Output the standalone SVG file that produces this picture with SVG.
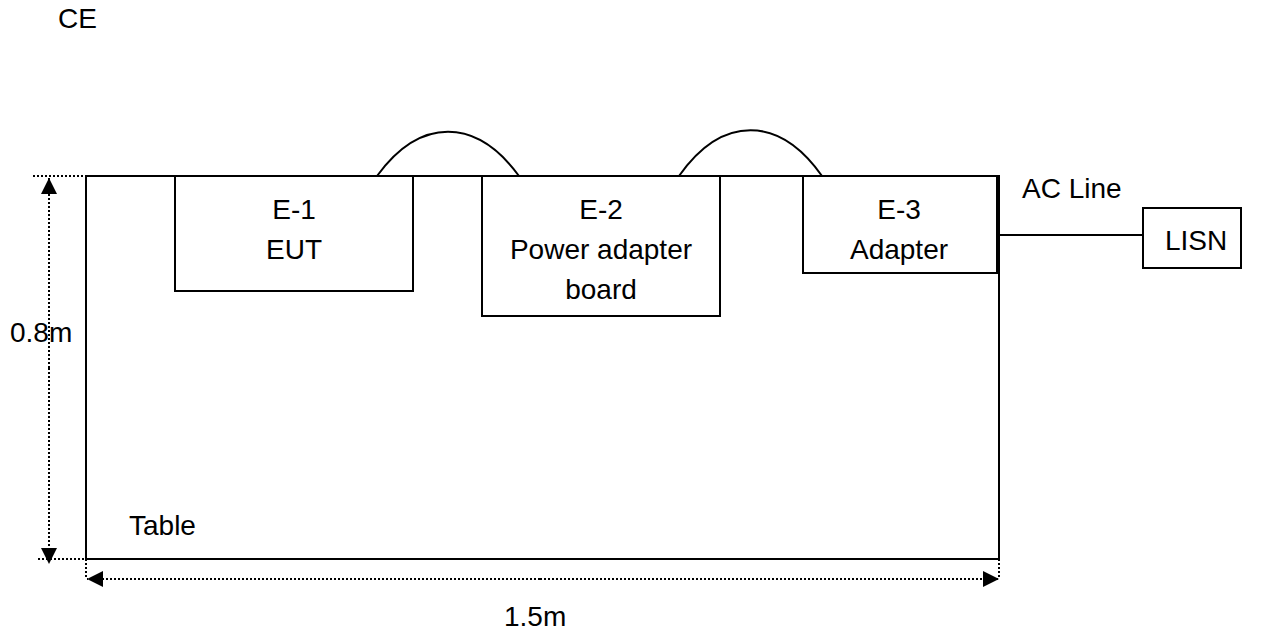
<svg xmlns="http://www.w3.org/2000/svg" width="1271" height="632" viewBox="0 0 1271 632">
<style>
.box{fill:none;stroke:#000;stroke-width:2}
.ln{fill:none;stroke:#000;stroke-width:2}
.dot{fill:none;stroke:#000;stroke-width:2;stroke-dasharray:2 2}
text{font-family:"Liberation Sans",Arial,sans-serif;font-size:28px;fill:#000}
.c{text-anchor:middle}
</style>
<defs>
<marker id="ah" viewBox="0 0 16 16" refX="16" refY="8" markerWidth="16" markerHeight="16" markerUnits="userSpaceOnUse" orient="auto">
<path d="M0,0 L16,8 L0,16 Z" fill="#000"/>
</marker>
</defs>
<rect width="1271" height="632" fill="#fff"/>
<text x="58" y="28">CE</text>
<g id="table">
<rect class="box" x="86" y="176" width="913" height="383"/>
<text x="129" y="535">Table</text>
</g>
<g id="e1">
<rect class="box" x="175" y="176" width="238" height="115"/>
<text class="c" x="294" y="219">E-1</text>
<text class="c" x="294" y="259">EUT</text>
</g>
<g id="e2">
<rect class="box" x="482" y="176" width="238" height="140"/>
<text class="c" x="601" y="219">E-2</text>
<text class="c" x="601" y="259">Power adapter</text>
<text class="c" x="601" y="299">board</text>
</g>
<g id="e3">
<rect class="box" x="803" y="176" width="194" height="97"/>
<text class="c" x="899" y="219">E-3</text>
<text class="c" x="899" y="259">Adapter</text>
</g>
<g id="lisn">
<rect class="box" x="1143" y="208" width="98" height="60"/>
<text x="1165" y="250">LISN</text>
</g>
<g id="connectors">
<path class="ln" d="M377,176 C420,117 476,117 519,176"/>
<path class="ln" d="M679,176 C722,115 779,115 822,176"/>
<line class="ln" x1="999" y1="235" x2="1143" y2="235"/>
<text x="1022" y="198">AC Line</text>
</g>
<g id="dimensions">
<line class="dot" x1="33" y1="176" x2="86" y2="176"/>
<line class="dot" x1="38" y1="559" x2="108" y2="559"/>
<line class="dot" x1="49" y1="368" x2="49" y2="178" marker-end="url(#ah)"/>
<line class="dot" x1="49" y1="368" x2="49" y2="564" marker-end="url(#ah)"/>
<line class="dot" x1="86" y1="559" x2="86" y2="579"/>
<line class="dot" x1="999" y1="559" x2="999" y2="579"/>
<line class="dot" x1="540" y1="579" x2="87" y2="579" marker-end="url(#ah)"/>
<line class="dot" x1="540" y1="579" x2="999" y2="579" marker-end="url(#ah)"/>
<text x="10" y="342">0.8m</text>
<text x="504" y="626">1.5m</text>
</g>
</svg>
